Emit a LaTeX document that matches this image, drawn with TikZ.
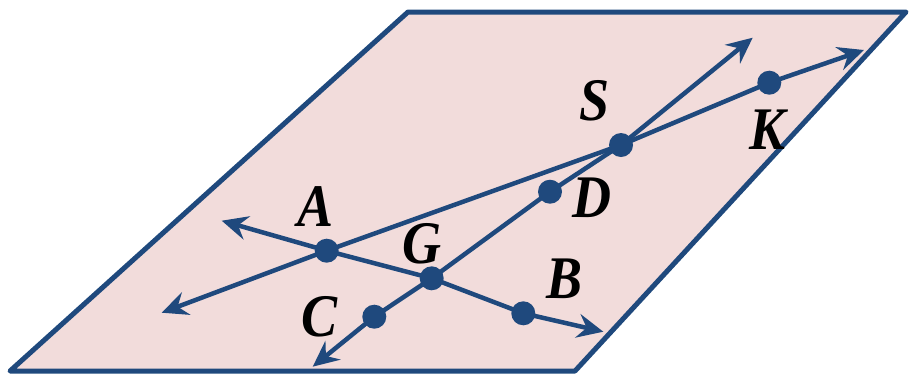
\documentclass[tikz,border=0pt]{standalone}
\usepackage{fontspec}
\setmainfont{Liberation Serif}
\usetikzlibrary{arrows.meta}
\definecolor{lineblue}{HTML}{1F497D}
\definecolor{planepink}{HTML}{F2DCDB}
\tikzset{
  plane/.style={draw=lineblue, fill=planepink, line width=5pt, line join=round},
  ray/.style={draw=lineblue, line width=4.5pt, line join=round},
  tipped/.style={-{Stealth[length=26pt,width=24pt,inset=9pt]}},
  dot/.style={circle, fill=lineblue, inner sep=0pt, minimum size=24pt},
  lbl/.style={font=\fontsize{54}{54}\selectfont\bfseries\itshape, inner sep=0pt, text=black, yscale=1.12}
}
\begin{document}
\begin{tikzpicture}[x=1pt,y=-1pt]
\useasboundingbox (0,0) rectangle (913,376);
% plane
\coordinate (p1) at (10,371);
\coordinate (p2) at (408,12);
\coordinate (p3) at (906,12);
\coordinate (p4) at (575,371);
\draw[plane] (p1) -- (p2) -- (p3) -- (p4) -- cycle;
% points
\coordinate (A) at (326.7,250.7);
\coordinate (C) at (374.3,316.7);
\coordinate (G) at (431.7,278.3);
\coordinate (D) at (550,191.7);
\coordinate (B) at (523.3,313.3);
\coordinate (S) at (621,145);
\coordinate (K) at (769.3,82.7);
% arrow ends
\coordinate (eAS) at (161.7,312.7);
\coordinate (eSK) at (864,50);
\coordinate (eAB1) at (221.7,220.7);
\coordinate (eAB2) at (603.3,331.7);
\coordinate (eCD1) at (312.7,366.7);
\coordinate (eCD2) at (752.7,37.7);
% lines
\draw[ray,tipped] (A) -- (eAS);
\draw[ray,tipped] (A) -- (S) -- (K) -- (eSK);
\draw[ray,tipped] (A) -- (eAB1);
\draw[ray,tipped] (A) -- (G) -- (B) -- (eAB2);
\draw[ray,tipped] (G) -- (C) -- (eCD1);
\draw[ray,tipped] (G) -- (D) -- (S) -- (eCD2);
% dots
\foreach \p in {A,C,G,D,B,S,K} \node[dot] (d\p) at (\p) {};
% labels
\node[lbl] (lA) at (316,207) {A};
\node[lbl] (lG) at (422,244) {G};
\node[lbl] (lD) at (592,198) {D};
\node[lbl] (lB) at (565,279) {B};
\node[lbl] (lC) at (320,317) {C};
\node[lbl] (lS) at (595,101) {S};
\node[lbl] (lK) at (767,130) {K};
\end{tikzpicture}
\end{document}
